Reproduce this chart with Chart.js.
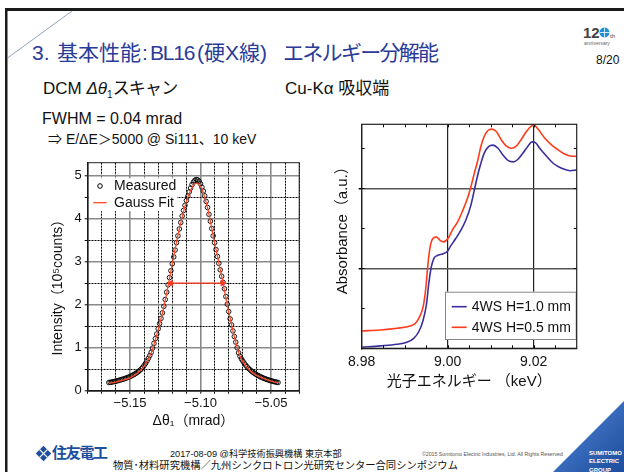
<!DOCTYPE html>
<html><head><meta charset="utf-8">
<script src="https://cdn.jsdelivr.net/npm/chart.js@4.4.1/dist/chart.umd.min.js"></script>
<style>
html,body{margin:0;padding:0;background:#fff;}
body{width:624px;height:472px;position:relative;overflow:hidden;font-family:"Liberation Sans","Noto Sans CJK JP",sans-serif;color:#111;}
.t{position:absolute;white-space:nowrap;}
.ttl span{position:absolute;top:0;white-space:nowrap;}
canvas{position:absolute;}
</style></head><body>
<svg class="t" style="left:0;top:0" width="624" height="472">
  <defs>
    <linearGradient id="gb" x1="0" y1="0" x2="1" y2="1">
      <stop offset="0" stop-color="#7fa8e0"/>
      <stop offset="0.35" stop-color="#3f74c4"/>
      <stop offset="1" stop-color="#1d4c9c"/>
    </linearGradient>
  </defs>
  <rect x="5" y="8" width="619" height="3" fill="#1a1a1a"/>
  <rect x="5" y="8" width="2.5" height="464" fill="#1a1a1a"/>
  <line x1="7.5" y1="58" x2="72" y2="11" stroke="#93a3c6" stroke-width="1"/>
  <polygon points="553,472 624,401 624,472" fill="url(#gb)"/>
  <g transform="translate(43.5,453.5) rotate(45)">
    <rect x="-5.5" y="-5.5" width="11" height="11" fill="#1d4f9f"/>
    <line x1="-5.5" y1="0" x2="5.5" y2="0" stroke="#fff" stroke-width="1.2"/>
    <line x1="0" y1="-5.5" x2="0" y2="5.5" stroke="#fff" stroke-width="1.2"/>
  </g>
  <circle cx="604.5" cy="32.5" r="5" fill="#1f8fd3"/>
  <path d="M599.5 32.5 H609.5 M604.5 27.5 V37.5" stroke="#fff" stroke-width="0.8"/>
</svg>

<div class="t ttl" style="left:0;top:40px;font-size:21px;line-height:26px;color:#2b3b98;width:624px;height:26px">
  <span style="left:32px">3.</span><span style="left:57px">基本性能</span><span style="left:142px">:</span><span style="left:150px;letter-spacing:-1.2px">BL16</span><span style="left:197px">(硬X線)</span><span style="left:283px;letter-spacing:-1.7px">エネルギー分解能</span>
</div>
<div class="t" style="left:43px;top:78px;font-size:17px;line-height:22px">DCM <i>Δθ</i><sub style="font-size:10px">1</sub><span style="letter-spacing:-0.8px">スキャン</span></div>
<div class="t" style="left:285px;top:78px;font-size:17px;line-height:22px">Cu-Kα 吸収端</div>
<div class="t" style="left:42px;top:110px;font-size:16px;line-height:18px">FWHM = 0.04 mrad</div>
<div class="t" style="left:48px;top:130px;font-size:14px;line-height:18px">⇒ E/ΔE＞5000 @ Si111、10 keV</div>

<div class="t" style="left:583px;top:25px;font-size:15px;font-weight:bold;color:#444;line-height:16px">12</div>
<div class="t" style="left:610px;top:33px;font-size:6px;color:#444">th</div>
<div class="t" style="left:584px;top:40px;font-size:5px;color:#666">anniversary</div>
<div class="t" style="left:596px;top:53px;font-size:12px;line-height:14px">8/20</div>

<div class="t" style="left:52px;top:444px;font-size:15px;font-weight:bold;color:#1d4f9f;line-height:18px;letter-spacing:-1.3px">住友電工</div>
<div class="t" style="left:170px;top:448px;font-size:9.2px;line-height:12px">2017-08-09 @科学技術振興機構 東京本部</div>
<div class="t" style="left:422px;top:451px;font-size:5.2px;line-height:6px;color:#555">©2015 Sumitomo Electric Industries, Ltd. All Rights Reserved</div>
<div class="t" style="left:113px;top:460px;font-size:10.3px;line-height:12px">物質･材料研究機構／九州シンクロトロン光研究センター合同シンポジウム</div>
<div class="t" style="left:589px;top:449px;font-size:6px;line-height:8.3px;font-weight:bold;color:#fff">SUMITOMO<br>ELECTRIC<br>GROUP</div>

<canvas id="c1" width="280" height="290" style="left:30px;top:150px;width:280px;height:290px"></canvas>
<canvas id="c2" width="265" height="285" style="left:325px;top:110px;width:265px;height:285px"></canvas>

<script>
// ---- Left chart: DCM Δθ1 scan ----
const measuredAngle = [
-5.165,-5.164,-5.163,-5.162,-5.161,-5.160,-5.159,-5.158,-5.157,-5.156,
-5.155,-5.154,-5.153,-5.152,-5.151,-5.150,-5.149,-5.148,-5.147,-5.146,
-5.145,-5.144,-5.143,-5.142,-5.141,-5.140,-5.139,-5.138,-5.137,-5.136,
-5.135,-5.134,-5.133,-5.132,-5.131,-5.130,-5.129,-5.128,-5.127,-5.126,
-5.125,-5.124,-5.123,-5.122,-5.121,-5.120,-5.119,-5.118,-5.117,-5.116,
-5.115,-5.114,-5.113,-5.112,-5.111,-5.110,-5.109,-5.108,-5.107,-5.106,
-5.105,-5.104,-5.103,-5.102,-5.101,-5.100,-5.099,-5.098,-5.097,-5.096,
-5.095,-5.094,-5.093,-5.092,-5.091,-5.090,-5.089,-5.088,-5.087,-5.086,
-5.085,-5.084,-5.083,-5.082,-5.081,-5.080,-5.079,-5.078,-5.077,-5.076,
-5.075,-5.074,-5.073,-5.072,-5.071,-5.070,-5.069,-5.068,-5.067,-5.066,
-5.065,-5.064,-5.063,-5.062,-5.061,-5.060,-5.059,-5.058,-5.057,-5.056,
-5.055,-5.054,-5.053,-5.052,-5.051,-5.050,-5.049,-5.048,-5.047,-5.046,
-5.045];
const measuredIntensity = [
0.190,0.195,0.200,0.207,0.215,0.222,0.230,0.239,0.248,0.258,
0.268,0.279,0.290,0.302,0.315,0.330,0.345,0.362,0.380,0.400,
0.422,0.447,0.475,0.506,0.540,0.585,0.635,0.690,0.750,0.815,
0.890,0.990,1.100,1.210,1.320,1.440,1.560,1.680,1.810,1.960,
2.120,2.290,2.460,2.630,2.790,2.950,3.110,3.270,3.440,3.600,
3.760,3.910,4.060,4.190,4.310,4.420,4.520,4.620,4.710,4.790,
4.850,4.890,4.910,4.900,4.870,4.810,4.730,4.640,4.530,4.400,
4.260,4.100,3.940,3.770,3.600,3.440,3.280,3.120,2.960,2.810,
2.660,2.520,2.370,2.190,2.010,1.840,1.670,1.530,1.390,1.260,
1.130,1.000,0.880,0.800,0.740,0.690,0.640,0.595,0.555,0.520,
0.490,0.460,0.433,0.410,0.388,0.368,0.350,0.333,0.317,0.302,
0.288,0.275,0.263,0.252,0.241,0.231,0.222,0.213,0.205,0.197,
0.190];
const fitAngle = [-5.165,-5.160,-5.155,-5.150,-5.145,-5.140,-5.135,-5.130,-5.127,-5.125,-5.120,-5.115,-5.110,-5.107,-5.105,-5.103,-5.101,-5.099,-5.095,-5.090,-5.085,-5.080,-5.075,-5.072,-5.070,-5.065,-5.060,-5.055,-5.050,-5.045];
const fitIntensity = [0.17,0.20,0.245,0.30,0.40,0.57,0.87,1.42,1.80,2.10,2.95,3.76,4.40,4.66,4.78,4.82,4.79,4.69,4.25,3.44,2.66,1.84,1.13,0.80,0.68,0.47,0.35,0.28,0.22,0.18];
const fwhmAngle = [-5.1211, -5.0843];
const fwhmIntensity = [2.5, 2.5];
const leftXTicks = [-5.18,-5.17,-5.16,-5.15,-5.14,-5.13,-5.12,-5.11,-5.10,-5.09,-5.08,-5.07,-5.06,-5.05,-5.04,-5.03];
const leftYTicks = [0,0.5,1,1.5,2,2.5,3,3.5,4,4.5,5];

// ---- Right chart: Cu-K absorption edge ----
const energyBlue = [8.9800,8.9843,8.9882,8.9905,8.9921,8.9933,8.9943,8.9951,8.9956,8.9962,8.9968,8.9976,8.9988,8.9999,9.0007,9.0019,9.0031,9.0042,9.0054,9.0062,9.0070,9.0077,9.0085,9.0095,9.0105,9.0117,9.0128,9.0140,9.0152,9.0163,9.0175,9.0187,9.0196,9.0204,9.0214,9.0230,9.0246,9.0265,9.0285,9.0300];
const absorbanceBlue = [0.013,0.030,0.050,0.075,0.125,0.210,0.354,0.563,0.810,1.020,1.125,1.160,1.180,1.210,1.280,1.375,1.480,1.600,1.790,1.980,2.170,2.310,2.440,2.520,2.540,2.500,2.420,2.350,2.330,2.360,2.440,2.530,2.580,2.570,2.500,2.400,2.310,2.250,2.220,2.230];
const energyRed = [8.9800,8.9843,8.9882,8.9913,8.9925,8.9935,8.9943,8.9949,8.9952,8.9956,8.9960,8.9966,8.9974,8.9982,8.9990,9.0001,9.0011,9.0023,9.0034,9.0046,9.0054,9.0062,9.0070,9.0077,9.0085,9.0093,9.0102,9.0113,9.0124,9.0136,9.0148,9.0160,9.0171,9.0183,9.0195,9.0201,9.0210,9.0226,9.0242,9.0257,9.0273,9.0289,9.0300];
const absorbanceRed = [0.217,0.229,0.250,0.279,0.313,0.400,0.520,0.750,0.930,1.150,1.290,1.375,1.390,1.350,1.330,1.375,1.480,1.580,1.710,1.875,2.020,2.190,2.350,2.520,2.650,2.720,2.740,2.710,2.610,2.530,2.500,2.530,2.610,2.710,2.780,2.790,2.740,2.625,2.540,2.480,2.425,2.400,2.400];
const rightXTicks = [8.98,8.985,8.99,8.995,9.00,9.005,9.01,9.015,9.02,9.025,9.03];
const rightYTicks = [0,0.5,1,1.5,2,2.5];
const rightMinorX = [8.985,8.990,8.995,9.000,9.005,9.010,9.015,9.020,9.025];
const rightMinorY = [0.5,1.0,1.5,2.0,2.5];

const pts = (xs, ys) => xs.map((x, i) => ({x, y: ys[i]}));
const setTicks = arr => s => { s.ticks = arr.map(v => ({value: v})); };

Chart.defaults.font.family = "'Liberation Sans', 'Noto Sans CJK JP', sans-serif";
Chart.defaults.color = '#111';
Chart.defaults.animation = false;

const decor = {
  id: 'decor',
  afterDatasetsDraw(chart, args, o) {
    const {ctx, chartArea: a} = chart;
    const sx = chart.scales.x, sy = chart.scales.y;
    ctx.save();
    if (o.minor) {
      ctx.strokeStyle = '#000'; ctx.lineWidth = 1;
      const L = o.minor.len;
      ctx.beginPath();
      o.minor.x.forEach(v => { const px = Math.round(sx.getPixelForValue(v)) + 0.5;
        ctx.moveTo(px, a.top); ctx.lineTo(px, a.top + L);
        ctx.moveTo(px, a.bottom); ctx.lineTo(px, a.bottom - L); });
      o.minor.y.forEach(v => { const py = Math.round(sy.getPixelForValue(v)) + 0.5;
        ctx.moveTo(a.left, py); ctx.lineTo(a.left + L, py);
        ctx.moveTo(a.right, py); ctx.lineTo(a.right - L, py); });
      ctx.stroke();
    }
    if (o.legend) {
      const g = o.legend;
      const bx = a.left + g.x, by = a.top + g.y;
      ctx.fillStyle = '#fff';
      ctx.fillRect(bx, by, g.w, g.h);
      if (g.border) { ctx.strokeStyle = g.border; ctx.lineWidth = 1; ctx.strokeRect(bx + 0.5, by + 0.5, g.w - 1, g.h - 1); }
      const items = chart.data.datasets.filter(d => d.label);
      ctx.font = g.font;
      ctx.textBaseline = 'middle'; ctx.textAlign = 'left';
      items.forEach((d, i) => {
        const ry = a.top + g.rows[i];
        if (d.showLine) {
          ctx.strokeStyle = d.borderColor; ctx.lineWidth = g.lineWidth;
          ctx.beginPath(); ctx.moveTo(a.left + g.lineX[0], ry); ctx.lineTo(a.left + g.lineX[1], ry); ctx.stroke();
        } else {
          ctx.strokeStyle = d.borderColor; ctx.lineWidth = 1;
          ctx.beginPath(); ctx.arc(a.left + (g.lineX[0] + g.lineX[1]) / 2, ry, 2.3, 0, Math.PI * 2); ctx.stroke();
        }
        ctx.fillStyle = '#111';
        ctx.fillText(d.label, a.left + g.textX, ry + 0.5);
      });
    }
    ctx.strokeStyle = o.frame.color; ctx.lineWidth = o.frame.width;
    ctx.strokeRect(a.left, a.top, a.right - a.left, a.bottom - a.top);
    ctx.restore();
  }
};

const isMajX1 = c => c.tick && Math.round(c.tick.value * 100) % 5 === 0;
const isIntY1 = c => c.tick && Number.isInteger(Math.round(c.tick.value * 1000) / 1000);

new Chart(document.getElementById('c1'), {
  type: 'scatter',
  plugins: [decor],
  data: { datasets: [
    { label: 'Measured', data: pts(measuredAngle, measuredIntensity), pointStyle: 'circle', pointRadius: 2.3,
      borderColor: '#000', backgroundColor: 'rgba(0,0,0,0)', borderWidth: 0.9, order: 2 },
    { label: 'Gauss Fit', data: pts(fitAngle, fitIntensity), showLine: true, pointRadius: 0, borderColor: '#ff4a2a',
      borderWidth: 1.3, cubicInterpolationMode: 'monotone', order: 1 },
    { data: pts(fwhmAngle, fwhmIntensity), showLine: true, borderColor: '#ff3a1a', borderWidth: 1.3,
      pointStyle: 'triangle', pointRadius: 3.5, pointRotation: [-90, 90], pointBackgroundColor: '#ff3a1a',
      pointBorderColor: '#ff3a1a', pointBorderWidth: 0.5, order: 0 }
  ]},
  options: {
    responsive: false, devicePixelRatio: 1,
    layout: { padding: { top: 12.7, right: 10.8, left: 0, bottom: 0 } },
    plugins: { legend: { display: false }, tooltip: { enabled: false },
      decor: { frame: { color: '#222', width: 1 },
        legend: { x: 1.3, y: 15.5, w: 88, h: 33, rows: [23.3, 40], lineX: [5.6, 19], textX: 26.3,
                  font: "14px 'Liberation Sans'", lineWidth: 1.3 } } },
    scales: {
      x: { type: 'linear', min: -5.18, max: -5.03, afterBuildTicks: setTicks(leftXTicks),
        ticks: { autoSkip: false, maxRotation: 0, minRotation: 0, padding: 2, font: { size: 13 },
          callback: v => Math.round(v * 100) % 5 === 0 ? v.toFixed(2).replace('-', '−') : '' },
        grid: { color: c => isMajX1(c) ? '#8a8a8a' : '#000', lineWidth: c => isMajX1(c) ? 1.6 : 1,
          tickLength: 3, tickColor: '#000', tickWidth: 1 },
        border: { color: '#000', width: 1.5, dash: c => (c.tick && !isMajX1(c)) ? [2, 1] : [] },
        title: { display: true, text: 'Δθ₁（mrad）', font: { size: 14 }, padding: { top: 0, bottom: 10 } },
        afterFit: s => { s.height = 49.3; } },
      y: { type: 'linear', min: 0, max: 5.3, afterBuildTicks: setTicks(leftYTicks),
        ticks: { padding: 3, font: { size: 13 },
          callback: v => Number.isInteger(v) ? String(v) : '' },
        grid: { color: c => isIntY1(c) ? '#8a8a8a' : '#000',
          lineWidth: c => isIntY1(c) ? 1.6 : 1, tickLength: 3, tickColor: '#000', tickWidth: 1 },
        border: { color: '#000', width: 1.5, dash: c => (c.tick && !isIntY1(c)) ? [2, 1] : [] },
        title: { display: true, text: 'Intensity（10⁵counts）\u3000  ', font: { size: 14 }, padding: { top: 20, bottom: 0 } },
        afterFit: s => { s.width = 57.7; } }
    }
  }
});

const isMajX2 = c => c.tick && Math.round(c.tick.value * 1000) % 20 === 0 && c.tick.value > 8.99;
const isIntY2 = c => c.tick && c.tick.value > 0.5 && Number.isInteger(Math.round(c.tick.value * 1000) / 1000);

new Chart(document.getElementById('c2'), {
  type: 'scatter',
  plugins: [decor],
  data: { datasets: [
    { label: '4WS H=1.0 mm', data: pts(energyBlue, absorbanceBlue), showLine: true, pointRadius: 0,
      borderColor: '#3a2e9c', borderWidth: 1.6, cubicInterpolationMode: 'monotone' },
    { label: '4WS H=0.5 mm', data: pts(energyRed, absorbanceRed), showLine: true, pointRadius: 0,
      borderColor: '#ff3b1c', borderWidth: 1.6, cubicInterpolationMode: 'monotone' }
  ]},
  options: {
    responsive: false, devicePixelRatio: 1,
    layout: { padding: { top: 14.3, right: 13.3, left: 0, bottom: 0 } },
    plugins: { legend: { display: false }, tooltip: { enabled: false },
      decor: { frame: { color: '#222', width: 1.2 },
        minor: { x: rightMinorX, y: rightMinorY, len: 3 },
        legend: { x: 83.3, y: 167.4, w: 131.7, h: 48.3, rows: [182.4, 203], lineX: [90, 105], textX: 110,
                  font: "14px 'Liberation Sans'", lineWidth: 1.6, border: '#888' } } },
    scales: {
      x: { type: 'linear', min: 8.98, max: 9.03, afterBuildTicks: setTicks(rightXTicks),
        ticks: { autoSkip: false, maxRotation: 0, minRotation: 0, padding: 2, font: { size: 14 },
          callback: v => Math.round(v * 1000) % 20 === 0 ? v.toFixed(2) : '' },
        grid: { color: c => isMajX2(c) ? '#222' : 'rgba(0,0,0,0)', lineWidth: 1.2, tickLength: 3, tickColor: 'rgba(0,0,0,0)' },
        border: { color: '#000', width: 1.2 },
        title: { display: true, text: '光子エネルギー （keV）', font: { size: 15 }, padding: { top: 0, bottom: 4 } },
        afterFit: s => { s.height = 46.7; } },
      y: { type: 'linear', min: 0, max: 2.8, afterBuildTicks: setTicks(rightYTicks),
        ticks: { display: false },
        grid: { color: c => isIntY2(c) ? '#555' : 'rgba(0,0,0,0)', lineWidth: 1.5, tickLength: 3,
          tickColor: c => isIntY2(c) ? '#000' : 'rgba(0,0,0,0)' },
        border: { color: '#000', width: 1.2 },
        title: { display: true, text: '\u3000 Absorbance（a.u.）', font: { size: 15 }, padding: { top: 9.3, bottom: 0 } },
        afterFit: s => { s.width = 36.7; } }
    }
  }
});
</script>
</body></html>
